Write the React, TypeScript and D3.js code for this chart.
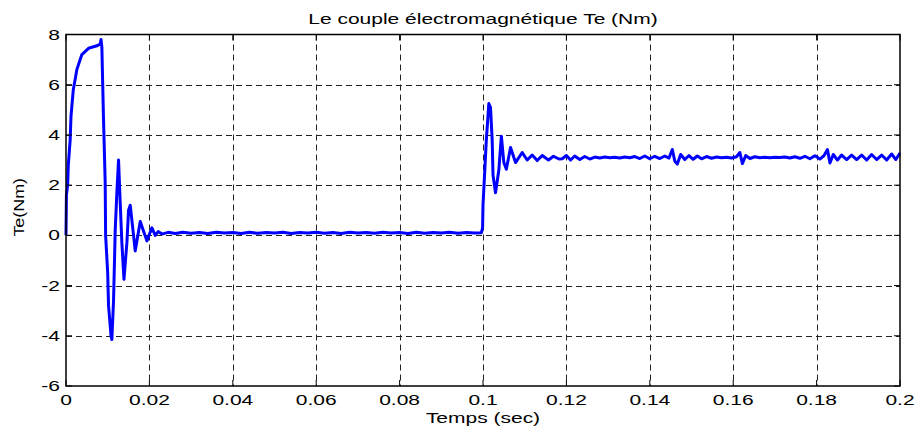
import React, { useEffect, useRef } from 'react';
import * as d3 from 'd3';

// tick values of both axes
const xTicks = [0, 0.02, 0.04, 0.06, 0.08, 0.1, 0.12, 0.14, 0.16, 0.18, 0.2];
const yTicks = [-6, -4, -2, 0, 2, 4, 6, 8];

// [time (s), Te (Nm)], one list per phase
const startup: [number, number][] = [
  [0, 0], [0.0001, 1.6], [0.0004, 2.0], [0.00055, 2.8], [0.001, 3.8], [0.0012, 4.75],
  [0.00175, 5.8], [0.0026, 6.6], [0.0038, 7.2], [0.0054, 7.45], [0.0074, 7.55],
  [0.0082, 7.62], [0.0084, 7.8], [0.0086, 7.5], [0.009, 4.6], [0.0094, 2.1],
  [0.0095, 0], [0.01, -1.5], [0.0102, -2.8], [0.0108, -4.0], [0.011, -4.15],
  [0.0114, -2.6], [0.0118, 0.2], [0.0122, 1.7], [0.0126, 3.0], [0.013, 1.3],
  [0.0134, -0.3], [0.0139, -1.75], [0.0146, -0.3], [0.015, 1.0], [0.0154, 1.2],
  [0.0162, 0.0], [0.0166, -0.62], [0.0178, 0.55], [0.0194, -0.22], [0.0206, 0.3],
  [0.0214, 0.0], [0.0221, 0.15],
];

const idle: [number, number][] = [
  [0.023, 0.05], [0.0245, 0.12], [0.0262, 0.07], [0.028, 0.12], [0.03, 0.08], [0.032, 0.11],
  [0.034, 0.07], [0.036, 0.12], [0.038, 0.09], [0.04, 0.11], [0.042, 0.07], [0.044, 0.12],
  [0.046, 0.08], [0.048, 0.11], [0.05, 0.09], [0.052, 0.12], [0.054, 0.07], [0.056, 0.11],
  [0.058, 0.09], [0.06, 0.12], [0.062, 0.08], [0.064, 0.11], [0.066, 0.07], [0.068, 0.12],
  [0.07, 0.09], [0.072, 0.11], [0.074, 0.08], [0.076, 0.12], [0.078, 0.09], [0.08, 0.11],
  [0.082, 0.07], [0.084, 0.12], [0.086, 0.08], [0.088, 0.11], [0.09, 0.09], [0.092, 0.12],
  [0.094, 0.08], [0.096, 0.11], [0.098, 0.09], [0.0996, 0.1],
];

const loadStep: [number, number][] = [
  [0.0999, 0.3], [0.1, 1.2], [0.1004, 2.5], [0.1008, 3.8], [0.1014, 5.25], [0.1018, 5.1],
  [0.1022, 3.8], [0.1024, 2.4], [0.103, 1.7], [0.1038, 2.6], [0.1044, 3.95], [0.105, 2.9],
  [0.1056, 2.63], [0.1066, 3.5], [0.1078, 2.9], [0.1094, 3.3], [0.1106, 3.0], [0.1118, 3.2],
  [0.113, 2.98], [0.1142, 3.18], [0.1157, 3.0], [0.1169, 3.15], [0.1182, 3.04],
];

const steady: [number, number][] = [
  [0.119, 3.05], [0.12, 3.18], [0.121, 3.0], [0.122, 3.16], [0.1232, 3.02], [0.1244, 3.14],
  [0.1256, 3.04], [0.1268, 3.12], [0.128, 3.08], [0.1292, 3.12], [0.1304, 3.09], [0.1316, 3.11],
  [0.1328, 3.08], [0.134, 3.12], [0.1352, 3.09], [0.1364, 3.14], [0.1376, 3.06], [0.1388, 3.16],
  [0.14, 3.05], [0.1412, 3.15], [0.1424, 3.06], [0.1436, 3.16], [0.1446, 3.08], [0.1454, 3.42],
  [0.146, 2.95], [0.1466, 2.84], [0.1474, 3.22], [0.1484, 3.02], [0.1494, 3.18], [0.1504, 3.03],
  [0.1514, 3.16], [0.1524, 3.05], [0.1536, 3.14], [0.1548, 3.07], [0.156, 3.12], [0.1572, 3.09],
  [0.1584, 3.11], [0.1596, 3.08], [0.1608, 3.13], [0.1616, 3.3], [0.1622, 2.86], [0.163, 3.18],
  [0.164, 3.06], [0.1652, 3.13], [0.1664, 3.09], [0.1676, 3.11], [0.1688, 3.09], [0.17, 3.11],
  [0.1712, 3.1], [0.1724, 3.12], [0.1736, 3.08], [0.1748, 3.13], [0.176, 3.07], [0.1772, 3.15],
  [0.1784, 3.05], [0.1796, 3.17], [0.1808, 3.04], [0.1818, 3.18], [0.1826, 3.42], [0.1832, 2.88],
  [0.184, 3.22], [0.185, 3.0], [0.186, 3.2], [0.1872, 3.02], [0.1884, 3.2], [0.1896, 3.02],
  [0.1908, 3.2], [0.192, 3.0], [0.1932, 3.22], [0.1944, 3.02], [0.1956, 3.2], [0.1968, 3.0],
  [0.198, 3.24], [0.199, 3.02], [0.2, 3.28],
];

const App = () => {
  const svgRef = useRef<SVGSVGElement>(null);

  useEffect(() => {
    const left = 66, right = 900, top = 34.5, bottom = 386;
    // the original picture is stretched sideways, so is the text
    const stretch = 1.5;

    const svg = d3.select(svgRef.current);
    svg.selectAll('*').remove();

    const x = d3.scaleLinear().domain([0, 0.2]).range([left, right]);
    const y = d3.scaleLinear().domain([-6, 8]).range([bottom, top]);

    const font = '"Liberation Sans", Arial, sans-serif';

    // dashed grid
    const grid = svg.append('g').attr('stroke', '#222').attr('stroke-width', 1).attr('stroke-dasharray', '6,4');
    grid.selectAll('.vg')
      .data(xTicks.slice(1, -1))
      .join('line')
      .attr('x1', d => Math.round(x(d)) + 0.5)
      .attr('x2', d => Math.round(x(d)) + 0.5)
      .attr('y1', top)
      .attr('y2', bottom);
    grid.selectAll('.hg')
      .data(yTicks.slice(1, -1))
      .join('line')
      .attr('x1', left)
      .attr('x2', right)
      .attr('y1', d => Math.round(y(d)) + 0.5)
      .attr('y2', d => Math.round(y(d)) + 0.5);

    // the signal
    const line = d3.line<[number, number]>()
      .x(d => x(d[0]))
      .y(d => y(d[1]));
    const points = [...startup, ...idle, ...loadStep, ...steady];
    svg.append('path')
      .datum(points)
      .attr('d', line)
      .attr('fill', 'none')
      .attr('stroke', '#0000ff')
      .attr('stroke-width', 3)
      .attr('stroke-linejoin', 'round');

    // axes box
    svg.append('rect')
      .attr('x', left)
      .attr('y', top)
      .attr('width', right - left)
      .attr('height', bottom - top)
      .attr('fill', 'none')
      .attr('stroke', '#000')
      .attr('stroke-width', 1.5);

    // inward ticks on all sides
    const ticks = svg.append('g').attr('stroke', '#000').attr('stroke-width', 1);
    ticks.selectAll('.xb')
      .data(xTicks)
      .join('line')
      .attr('x1', d => x(d)).attr('x2', d => x(d))
      .attr('y1', bottom).attr('y2', bottom - 6);
    ticks.selectAll('.xt')
      .data(xTicks)
      .join('line')
      .attr('x1', d => x(d)).attr('x2', d => x(d))
      .attr('y1', top).attr('y2', top + 6);
    ticks.selectAll('.yl')
      .data(yTicks)
      .join('line')
      .attr('x1', left).attr('x2', left + 6)
      .attr('y1', d => y(d)).attr('y2', d => y(d));
    ticks.selectAll('.yr')
      .data(yTicks)
      .join('line')
      .attr('x1', right).attr('x2', right - 6)
      .attr('y1', d => y(d)).attr('y2', d => y(d));

    const label = (tx: number, ty: number, txt: string, anchor: string, sx = stretch, rot = 0) =>
      svg.append('text')
        .attr('transform', `translate(${tx},${ty}) rotate(${rot}) scale(${sx},1)`)
        .attr('text-anchor', anchor)
        .attr('font-family', font)
        .attr('font-size', 14)
        .attr('fill', '#000')
        .text(txt);

    // tick labels
    xTicks.forEach(d => label(x(d), 405, String(d), 'middle'));
    yTicks.forEach(d => label(60, y(d) + 5, String(d), 'end'));

    // titles
    label((left + right) / 2, 24, 'Le couple électromagnétique Te (Nm)', 'middle');
    label((left + right) / 2, 423, 'Temps (sec)', 'middle');
    label(24, (top + bottom) / 2 - 3, 'Te(Nm)', 'middle', 1.28, -90);
  }, []);

  return (
    <svg
      ref={svgRef}
      width={917}
      height={427}
      style={{ position: 'absolute', left: 0, top: 0, background: '#fff' }}
    />
  );
};

export default App;
